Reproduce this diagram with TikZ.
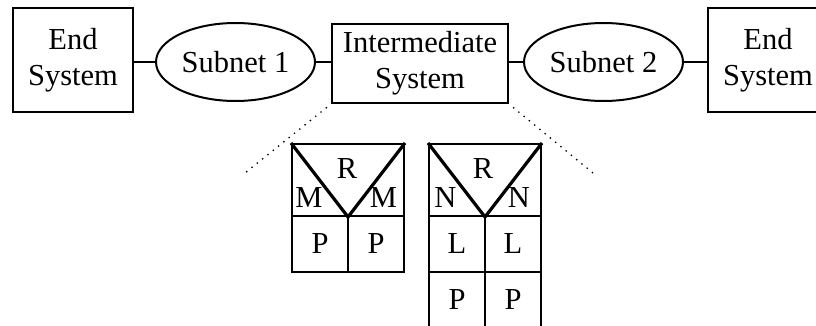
\documentclass[tikz,border=0pt]{standalone}
\usepackage{fontspec}
\setmainfont{Liberation Serif}
\usetikzlibrary{
    shapes.geometric,
    calc,
}
\tikzset{
    sysbox/.style={draw, line width=2pt, align=center, inner sep=0pt,
        minimum width=120pt, minimum height=104pt},
    subnet/.style={draw, ellipse, line width=2pt, inner sep=0pt,
        minimum width=159pt, minimum height=78pt},
    topcell/.style={draw, line width=2pt, inner sep=0pt,
        minimum width=112pt, minimum height=72pt},
    cell/.style={draw, line width=2pt, inner sep=0pt,
        minimum width=56pt, minimum height=56pt},
    link/.style={line width=2pt},
    vline/.style={line width=3.2pt},
    zoomline/.style={line width=1.9pt, line cap=round, dash pattern=on 0pt off 6.8pt, shorten <=6pt},
}

\begin{document}
\begin{tikzpicture}[x=1pt, y=-1pt, font=\fontsize{30.5}{36}\selectfont]
        \useasboundingbox (0,0) rectangle (816,326);
        % top row
        \node[sysbox] (end1) at (73,60) {End\\System};
        \node[subnet] (sub1) at (235.5,62) {Subnet 1};
        \node[sysbox, minimum width=176pt, minimum height=79pt] (inter) at (420,63.5) {Intermediate\\System};
        \node[subnet] (sub2) at (603.5,62) {Subnet 2};
        \node[sysbox] (end2) at (768,60) {End\\System};
        \draw[link] (sub1.west) -- (sub1.west -| end1.east);
        \draw[link] (sub1.east) -- (sub1.east -| inter.west);
        \draw[link] (sub2.west) -- (sub2.west -| inter.east);
        \draw[link] (sub2.east) -- (sub2.east -| end2.west);
        % zoom lines
        \coordinate (zl) at (245,173);
        \coordinate (zr) at (593,173);
        \draw[zoomline] (inter.south west) -- (zl);
        \draw[zoomline] (inter.south east) -- (zr);
        % left stack
        \node[topcell] (rt1) at (348,180) {};
        \node[cell] (p1a) at (320,244) {P};
        \node[cell] (p1b) at (376,244) {P};
        \draw[vline] (rt1.north west) -- (rt1.south) -- (rt1.north east);
        \node (r1) at (347,168.5) {R};
        \node (m1a) at (309,197.5) {M};
        \node (m1b) at (383.5,197.5) {M};
        % right stack
        \node[topcell] (rt2) at (485,180) {};
        \node[cell] (l2a) at (457,244) {L};
        \node[cell] (l2b) at (513,244) {L};
        \node[cell] (p2a) at (457,300) {P};
        \node[cell] (p2b) at (513,300) {P};
        \draw[vline] (rt2.north west) -- (rt2.south) -- (rt2.north east);
        \node (r2) at (483,168.5) {R};
        \node (n2a) at (445.5,197.5) {N};
        \node (n2b) at (519,197.5) {N};
    \end{tikzpicture}
\end{document}
